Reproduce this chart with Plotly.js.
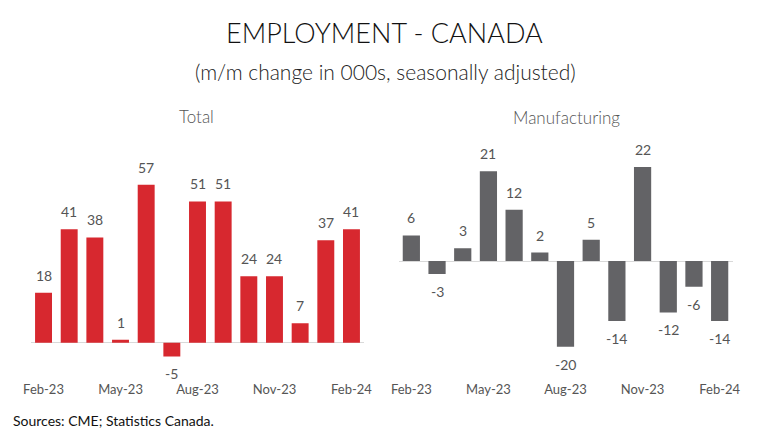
<!DOCTYPE html>
<html>
<head>
<meta charset="utf-8">
<script src="https://cdn.plot.ly/plotly-3.0.1.min.js"></script>
<style>html,body{margin:0;padding:0;background:#fff;}#chart{width:760px;height:442px;}</style>
</head>
<body>
<div id="chart"></div>
<script>
var months = ["Feb-23","Mar-23","Apr-23","May-23","Jun-23","Jul-23","Aug-23","Sep-23","Oct-23","Nov-23","Dec-23","Jan-24","Feb-24"];
var tickLabels = ["Feb-23","May-23","Aug-23","Nov-23","Feb-24"];
var totalValues = [18, 41, 38, 1, 57, -5, 51, 51, 24, 24, 7, 37, 41];
var mfgValues = [6, -3, 3, 21, 12, 2, -20, 5, -14, 22, -12, -6, -14];

var FONT = "Lato, 'Open Sans', sans-serif";
var W = 760, H = 442;
function py(px){ return 1 - px / H; }
function px_(x){ return x / W; }

var traces = [
  {type:'bar', x: months, y: totalValues, xaxis:'x', yaxis:'y', marker:{color:'#d7282f'}, width:0.66, hoverinfo:'none'},
  {type:'bar', x: months, y: mfgValues, xaxis:'x2', yaxis:'y2', marker:{color:'#636366'}, width:0.67, hoverinfo:'none'}
];

var annotations = [];
function addLabels(vals, xa, ya){
  vals.forEach(function(v, i){
    annotations.push({
      x: months[i], y: v, xref: xa, yref: ya, text: String(v), showarrow:false,
      yanchor: v >= 0 ? 'bottom' : 'top', yshift: v >= 0 ? 7 : -7,
      font:{family:FONT, size:14, color:'#555555'}
    });
  });
}
addLabels(totalValues, 'x', 'y');
addLabels(mfgValues, 'x2', 'y2');

annotations.push({text:'EMPLOYMENT - CANADA', xref:'paper', yref:'paper', x:px_(384), y:py(33), showarrow:false, xanchor:'center', yanchor:'middle', font:{family:FONT, size:27, weight:300, color:'#111111'}});
annotations.push({text:'(m/m change in 000s, seasonally adjusted)', xref:'paper', yref:'paper', x:px_(385), y:py(71), showarrow:false, xanchor:'center', yanchor:'middle', font:{family:FONT, size:21, weight:300, color:'#222222'}});
annotations.push({text:'Total', xref:'paper', yref:'paper', x:px_(197), y:py(117), showarrow:false, xanchor:'center', yanchor:'middle', font:{family:FONT, size:17, weight:300, color:'#555555'}});
annotations.push({text:'Manufacturing', xref:'paper', yref:'paper', x:px_(566), y:py(118), showarrow:false, xanchor:'center', yanchor:'middle', font:{family:FONT, size:17, weight:300, color:'#555555'}});
annotations.push({text:'Sources: CME; Statistics Canada.', xref:'paper', yref:'paper', x:px_(11), y:py(420), showarrow:false, xanchor:'left', yanchor:'middle', font:{family:FONT, size:14, color:'#111111'}});

var axX = {
  type:'category', showgrid:false, zeroline:false, showline:false, ticks:'', automargin:false,
  tickmode:'array', tickvals: tickLabels, ticktext: tickLabels,
  tickfont:{family:FONT, size:13, color:'#555555'}, range:[-0.5, 12.5], fixedrange:true
};
var axY = {showgrid:false, zeroline:true, zerolinecolor:'#d9d9d9', zerolinewidth:1, showticklabels:false, ticks:'', showline:false, automargin:false, fixedrange:true};

var layout = {
  width: W, height: H,
  margin:{l:0, r:0, t:0, b:0},
  paper_bgcolor:'#ffffff', plot_bgcolor:'#ffffff',
  showlegend:false,
  bargap:0.34,
  xaxis: Object.assign({}, axX, {domain:[px_(30.7), px_(364.3)], anchor:'y'}),
  yaxis: Object.assign({}, axY, {domain:[py(380), py(140)], range:[-13.5, 73.2], anchor:'x'}),
  xaxis2: Object.assign({}, axX, {domain:[px_(398.5), px_(732.5)], anchor:'y2'}),
  yaxis2: Object.assign({}, axY, {domain:[py(380), py(140)], range:[-27.8, 28.3], anchor:'x2'}),
  annotations: annotations
};

Plotly.newPlot('chart', traces, layout, {staticPlot:true, displayModeBar:false});
</script>
</body>
</html>
